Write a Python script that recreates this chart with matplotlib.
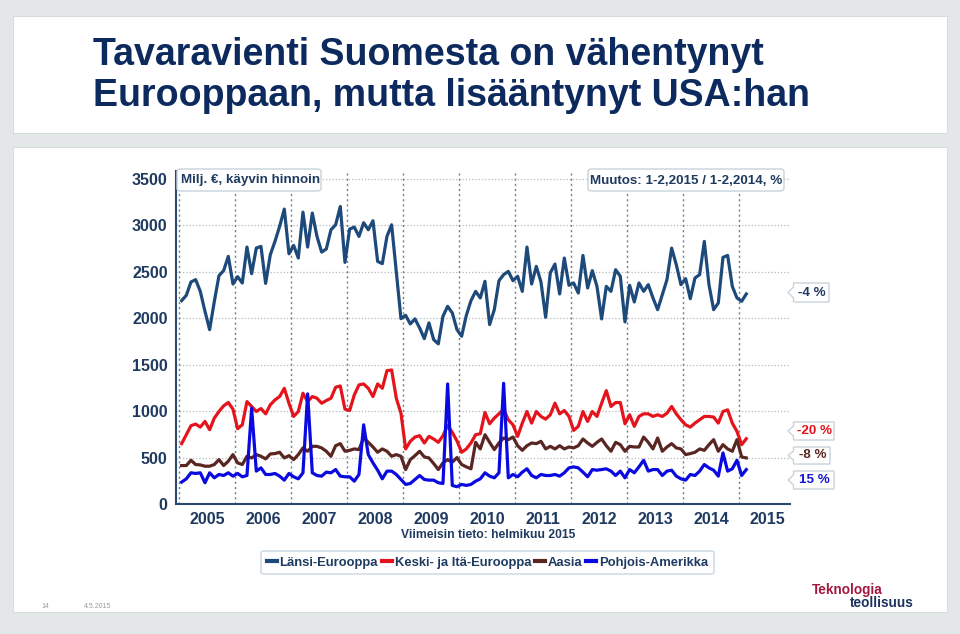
import numpy as np
import matplotlib
matplotlib.use('Agg')
import matplotlib.pyplot as plt
from matplotlib.patches import Rectangle, FancyBboxPatch, Polygon
from matplotlib.lines import Line2D
from matplotlib import font_manager as fm

names = {f.name for f in fm.fontManager.ttflist}
HAS_NARROW = 'Liberation Sans Narrow' in names
NARROW = 'Liberation Sans Narrow' if HAS_NARROW else 'Liberation Sans'
plt.rcParams['font.family'] = ['Liberation Sans', 'DejaVu Sans']

# ---------------- data (monthly, Jan 2005 .. Feb 2015, milj. EUR) ----------------
years = ['2005', '2006', '2007', '2008', '2009', '2010', '2011', '2012', '2013', '2014', '2015']
yticks = [0, 500, 1000, 1500, 2000, 2500, 3000, 3500]

lansi_eurooppa = [
    2190, 2247, 2391, 2416, 2290, 2075, 1878, 2180, 2459, 2513, 2667, 2369,
    2448, 2380, 2767, 2480, 2756, 2774, 2376, 2685, 2828, 2990, 3176, 2695,
    2785, 2649, 3143, 2767, 3133, 2882, 2713, 2746, 2953, 3007, 3204, 2602,
    2961, 2982, 2882, 3029, 2953, 3050, 2613, 2588, 2882, 3007, 2500, 1996,
    2032, 1939, 1993, 1896, 1781, 1950, 1771, 1724, 2022, 2129, 2057, 1878,
    1807, 2030, 2190, 2290, 2219, 2398, 1932, 2093, 2405, 2470, 2505, 2405,
    2452, 2290, 2767, 2369, 2559, 2391, 2011, 2489, 2584, 2262, 2649, 2355,
    2380, 2272, 2677, 2326, 2513, 2344, 1993, 2344, 2290, 2523, 2452, 1961,
    2355, 2176, 2380, 2290, 2362, 2219, 2093, 2254, 2416, 2756, 2577, 2362,
    2427, 2211, 2434, 2470, 2828, 2362, 2093, 2165, 2656, 2677, 2344, 2219,
    2183, 2262]

keski_ja_ita_eurooppa = [
    650, 746, 843, 861, 828, 889, 800, 925, 996, 1057, 1093, 1021,
    811, 853, 1103, 1050, 996, 1028, 971, 1068, 1121, 1157, 1246, 1085,
    943, 996, 1193, 1103, 1157, 1139, 1085, 1114, 1139, 1257, 1271, 1021,
    1007, 1175, 1282, 1293, 1246, 1157, 1293, 1246, 1436, 1443, 1139, 978,
    593, 675, 721, 736, 657, 728, 700, 664, 736, 846, 771, 680,
    557, 593, 657, 746, 757, 986, 864, 925, 971, 1021, 907, 853,
    728, 871, 996, 871, 996, 943, 914, 961, 1086, 971, 1007, 943,
    793, 836, 996, 889, 996, 943, 1086, 1221, 1050, 1093, 1093, 864,
    961, 836, 943, 971, 971, 943, 961, 943, 978, 1050, 971, 907,
    853, 828, 871, 907, 943, 943, 936, 871, 996, 1014, 871, 782,
    639, 703]

aasia = [
    414, 414, 471, 425, 421, 407, 407, 425, 478, 414, 461, 532,
    443, 425, 514, 496, 532, 514, 486, 539, 543, 557, 496, 521,
    478, 532, 604, 568, 621, 621, 604, 568, 514, 628, 650, 568,
    578, 593, 586, 711, 664, 614, 557, 593, 568, 514, 532, 514,
    371, 478, 521, 568, 507, 496, 436, 371, 443, 478, 450, 500,
    425, 400, 379, 664, 593, 746, 664, 586, 657, 711, 693, 721,
    628, 578, 628, 657, 650, 675, 593, 621, 593, 628, 593, 614,
    604, 628, 700, 657, 621, 664, 700, 628, 568, 664, 639, 568,
    621, 614, 614, 721, 664, 593, 711, 568, 614, 650, 604, 593,
    532, 543, 557, 593, 578, 639, 693, 568, 639, 593, 568, 693,
    507, 496]

pohjois_amerikka = [
    236, 271, 336, 329, 336, 229, 336, 282, 318, 307, 336, 300,
    329, 293, 307, 1032, 354, 389, 318, 318, 329, 300, 257, 329,
    293, 271, 336, 1186, 336, 307, 300, 343, 336, 371, 300, 293,
    293, 246, 318, 853, 532, 443, 364, 271, 354, 354, 318, 264,
    211, 221, 264, 307, 264, 257, 257, 229, 221, 1293, 200, 186,
    211, 200, 211, 246, 271, 336, 300, 282, 336, 1300, 282, 318,
    293, 343, 379, 307, 282, 318, 307, 307, 318, 300, 336, 389,
    400, 389, 343, 293, 371, 364, 371, 379, 354, 307, 354, 282,
    371, 336, 400, 471, 354, 371, 371, 307, 354, 364, 300, 271,
    257, 318, 307, 354, 425, 389, 364, 300, 550, 354, 379, 471,
    307, 371]

series_names = ['Länsi-Eurooppa', 'Keski- ja Itä-Eurooppa', 'Aasia', 'Pohjois-Amerikka']
series_values = [lansi_eurooppa, keski_ja_ita_eurooppa, aasia, pohjois_amerikka]
series_colors = ['#1d4a7a', '#e5141c', '#5a2622', '#0a0ae0']
changes = ['-4 %', '-20 %', '-8 %', '15 %']
change_colors = ['#1f3a64', '#e3111b', '#5a2622', '#1414d2']

TXT = '#1f3a60'
W, H = 960, 634

def fx(x):
    return x / W

def fy(y):
    return 1 - y / H

fig = plt.figure(figsize=(9.6, 6.34), dpi=100, facecolor='#e4e7e7')

# white panels
for (x0, y0, x1, y1) in [(13, 16, 947, 133), (13, 147, 947, 612)]:
    fig.patches.append(Rectangle((fx(x0), fy(y1)), fx(x1) - fx(x0), fy(y0) - fy(y1),
                                 transform=fig.transFigure, facecolor='white',
                                 edgecolor='#d8dcdc', lw=0.8, zorder=-5))

# title
TSIZE = 31 if HAS_NARROW else 27
fig.text(fx(93), fy(65), 'Tavaravienti Suomesta on vähentynyt', family=NARROW,
         weight='bold', fontsize=TSIZE, color='#0d2a5e', ha='left', va='baseline')
fig.text(fx(93), fy(106.5), 'Eurooppaan, mutta lisääntynyt USA:han', family=NARROW,
         weight='bold', fontsize=TSIZE, color='#0d2a5e', ha='left', va='baseline')

# axes
px_per_month = 56.0 / 12
x_left = (176 - 179.3) / px_per_month
x_right = (790 - 179.3) / px_per_month
y_top = (504 - 171.5) / (325.0 / 3500)
ax = fig.add_axes([fx(176), fy(504), fx(790) - fx(176), fy(171.5) - fy(504)])
ax.set_facecolor('none')
ax.set_xlim(x_left, x_right)
ax.set_ylim(0, y_top)

for v in yticks[1:]:
    ax.axhline(v, color='#b5babe', lw=0.9, ls=(0, (1, 1.6)), zorder=1)
for k in range(len(years)):
    ax.axvline(12 * k, color='#717c87', lw=1.0, ls=(0, (1.5, 2.2)), zorder=1)

xpos = np.arange(len(lansi_eurooppa)) + 0.5
for vals, col in zip(series_values, series_colors):
    ax.plot(xpos, vals, color=col, lw=2.3, solid_joinstyle='round', zorder=3)

for s in ['top', 'right']:
    ax.spines[s].set_visible(False)
for s in ['left', 'bottom']:
    ax.spines[s].set_color('#2c4a6e')
    ax.spines[s].set_linewidth(1.5)

ax.set_yticks(yticks)
ax.set_yticklabels([str(v) for v in yticks])
ax.set_xticks([12 * k + 6 for k in range(len(years))])
ax.set_xticklabels(years)
ax.tick_params(axis='both', length=0, labelsize=11.5, labelcolor=TXT)
ax.tick_params(axis='y', pad=6)
ax.tick_params(axis='x', pad=6)
for lab in ax.get_xticklabels() + ax.get_yticklabels():
    lab.set_fontweight('bold')

# header boxes
def box(x0, y0, x1, y1, ec='#c9d3da'):
    p = FancyBboxPatch((fx(x0), fy(y1)), fx(x1) - fx(x0), fy(y0) - fy(y1),
                       boxstyle='round,pad=0,rounding_size=0.004',
                       transform=fig.transFigure, fc='white', ec=ec, lw=1.0, zorder=5)
    fig.patches.append(p)

box(177, 169, 321, 191)
fig.text(fx(181), fy(180.5), 'Milj. €, käyvin hinnoin', weight='bold', fontsize=9.6,
         color=TXT, ha='left', va='center', zorder=6)
box(588, 169, 784, 191)
fig.text(fx(686), fy(180.5), 'Muutos: 1-2,2015 / 1-2,2014, %', weight='bold', fontsize=9.6,
         color=TXT, ha='center', va='center', zorder=6)

# change callouts
callouts = [(283, 302, 829), (422, 440, 834), (447, 464, 830), (471, 489, 834)]
for (y0, y1, xr), txt, col in zip(callouts, changes, change_colors):
    ym = (y0 + y1) / 2
    pts = [(788, ym), (793.5, y0 + 4), (793.5, y0), (xr, y0), (xr, y1), (793.5, y1), (793.5, y1 - 4)]
    poly = Polygon([(fx(a), fy(b)) for a, b in pts], closed=True, transform=fig.transFigure,
                   fc='white', ec='#c9d3da', lw=1.0, zorder=5)
    fig.patches.append(poly)
    fig.text(fx((793.5 + xr) / 2 + 1), fy(ym), txt, weight='bold', fontsize=9.6, color=col,
             ha='center', va='center', zorder=6)

# footnote
fig.text(fx(488), fy(535), 'Viimeisin tieto: helmikuu 2015', weight='bold', fontsize=8.7,
         color=TXT, ha='center', va='center')

# legend
handles = [Line2D([0], [0], color=c, lw=3) for c in series_colors]
leg = fig.legend(handles, series_names, loc='center', bbox_to_anchor=(fx(487.5), fy(562.5)),
                 ncol=4, frameon=True, fancybox=True, handlelength=0.75, handletextpad=0.22,
                 columnspacing=0.3, borderpad=0.45, borderaxespad=0,
                 prop=dict(weight='bold', size=9.4))
leg.get_frame().set_edgecolor('#c5d5de')
leg.get_frame().set_linewidth(1.2)
for t in leg.get_texts():
    t.set_color(TXT)

# page footer
fig.text(fx(45), fy(606), '14', fontsize=5, color='#9a9a9a', ha='center', va='center')
fig.text(fx(98), fy(606), '4.5.2015', fontsize=5, color='#9a9a9a', ha='center', va='center')
fig.text(fx(847), fy(590), 'Teknologia', family=NARROW, weight='bold', fontsize=9.8,
         color='#a3193e', ha='center', va='center')
fig.text(fx(882), fy(603), 'teollisuus', family=NARROW, weight='bold', fontsize=9.8,
         color='#1d3160', ha='center', va='center')

fig.savefig('out.png', dpi=100, facecolor=fig.get_facecolor())
